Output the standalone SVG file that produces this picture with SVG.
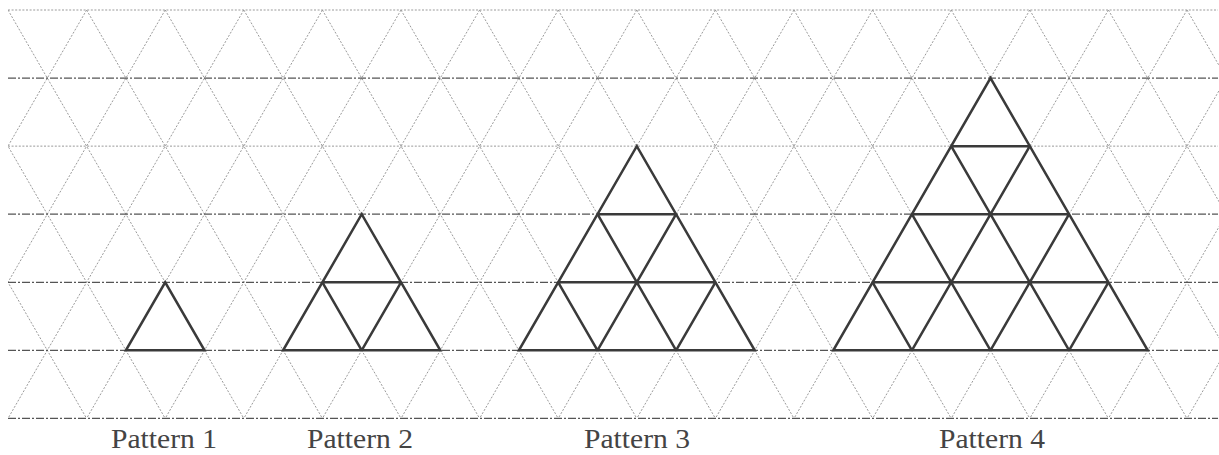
<svg xmlns="http://www.w3.org/2000/svg" width="1219" height="455" viewBox="0 0 1219 455">
<style>
.diag{stroke:#9a9a9a;stroke-width:1;stroke-dasharray:2 1.6;fill:none}
.dot{stroke:#9a9a9a;stroke-width:1;stroke-dasharray:2 1.6;fill:none}
.dd{stroke:#555;stroke-width:1.2;stroke-dasharray:8 2 2 2;fill:none}
.tri{stroke:#3a3a3a;stroke-width:2.5;fill:none;stroke-linejoin:miter}
.lbl{font-family:"Liberation Serif","Times New Roman",serif;font-size:27px;fill:#444;text-anchor:middle}
</style>
<defs>
<clipPath id="gridclip"><rect x="8" y="9" width="1211" height="410"/></clipPath>
</defs>
<rect width="1219" height="455" fill="#fff"/>
<g id="grid">
<g clip-path="url(#gridclip)">
<path class="diag" d="M-227.8 10l235.8 408.42M-149.2 10l235.8 408.42M-70.6 10l235.8 408.42M8 10l235.8 408.42M86.6 10l235.8 408.42M165.2 10l235.8 408.42M243.8 10l235.8 408.42M322.4 10l235.8 408.42M401 10l235.8 408.42M479.6 10l235.8 408.42M558.2 10l235.8 408.42M636.8 10l235.8 408.42M715.4 10l235.8 408.42M794 10l235.8 408.42M872.6 10l235.8 408.42M951.2 10l235.8 408.42M1029.8 10l235.8 408.42M1108.4 10l235.8 408.42M1187 10l235.8 408.42"/>
<path class="diag" d="M8 10l-235.8 408.42M86.6 10l-235.8 408.42M165.2 10l-235.8 408.42M243.8 10l-235.8 408.42M322.4 10l-235.8 408.42M401 10l-235.8 408.42M479.6 10l-235.8 408.42M558.2 10l-235.8 408.42M636.8 10l-235.8 408.42M715.4 10l-235.8 408.42M794 10l-235.8 408.42M872.6 10l-235.8 408.42M951.2 10l-235.8 408.42M1029.8 10l-235.8 408.42M1108.4 10l-235.8 408.42M1187 10l-235.8 408.42M1265.6 10l-235.8 408.42M1344.2 10l-235.8 408.42M1422.8 10l-235.8 408.42"/>
</g>
<path class="dot" d="M8 10H1218M8 146.14H1218"/>
<path class="dd" d="M8 78.07H1218M8 214.21H1218M8 282.28H1218M8 350.35H1218M8 418.42H1218"/>
</g>
<g id="pattern1">
<polygon class="tri" points="125.9,350.35 204.5,350.35 165.2,282.28"/>
<text class="lbl" x="164" y="448" textLength="106" lengthAdjust="spacingAndGlyphs">Pattern 1</text>
</g>
<g id="pattern2">
<polygon class="tri" points="283.1,350.35 440.3,350.35 361.7,214.21"/>
<path class="tri" d="M322.4 282.28H401M361.7 350.35L401 282.28M361.7 350.35L322.4 282.28"/>
<text class="lbl" x="360" y="448" textLength="106" lengthAdjust="spacingAndGlyphs">Pattern 2</text>
</g>
<g id="pattern3">
<polygon class="tri" points="518.9,350.35 754.7,350.35 636.8,146.14"/>
<path class="tri" d="M558.2 282.28H715.4M597.5 214.21H676.1M597.5 350.35L676.1 214.21M676.1 350.35L715.4 282.28M597.5 350.35L558.2 282.28M676.1 350.35L597.5 214.21"/>
<text class="lbl" x="637" y="448" textLength="106" lengthAdjust="spacingAndGlyphs">Pattern 3</text>
</g>
<g id="pattern4">
<polygon class="tri" points="833.3,350.35 1147.7,350.35 990.5,78.07"/>
<path class="tri" d="M872.6 282.28H1108.4M911.9 214.21H1069.1M951.2 146.14H1029.8M911.9 350.35L1029.8 146.14M990.5 350.35L1069.1 214.21M1069.1 350.35L1108.4 282.28M911.9 350.35L872.6 282.28M990.5 350.35L911.9 214.21M1069.1 350.35L951.2 146.14"/>
<text class="lbl" x="992" y="448" textLength="106" lengthAdjust="spacingAndGlyphs">Pattern 4</text>
</g>
</svg>
